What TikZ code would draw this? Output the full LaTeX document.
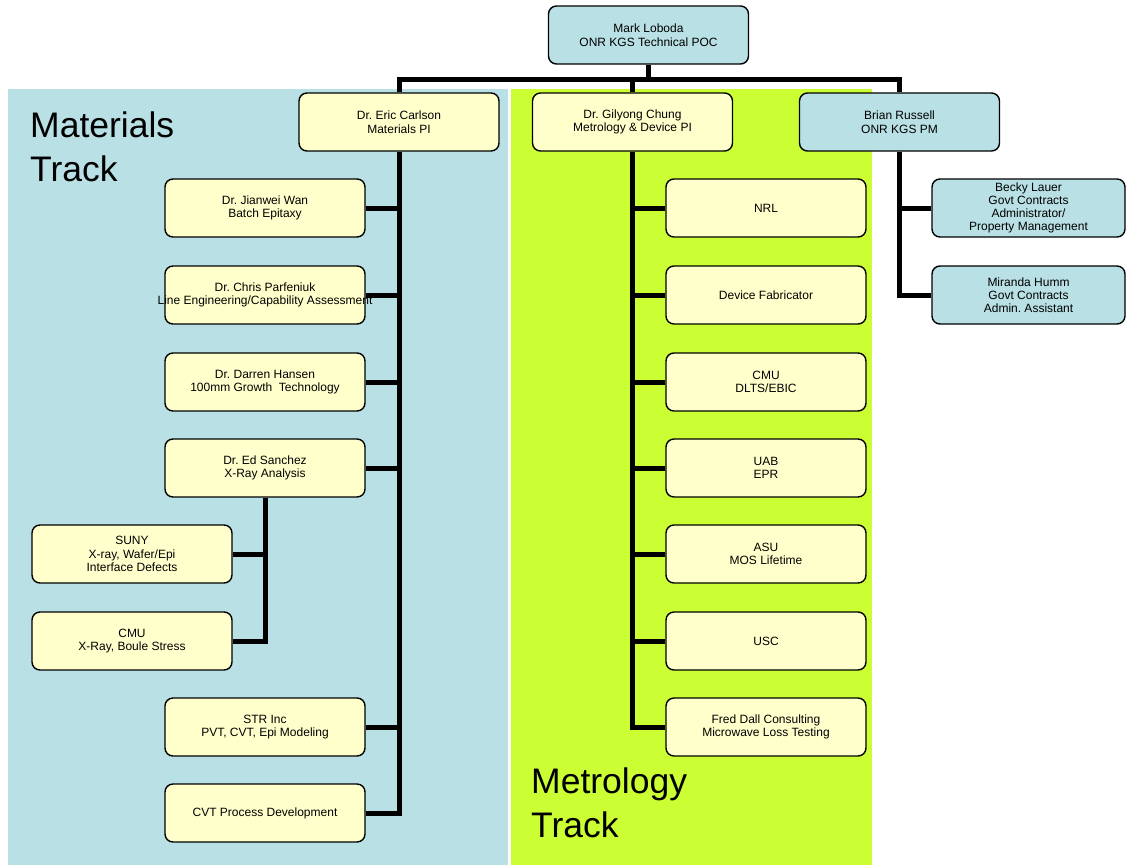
\documentclass[tikz,border=0pt]{standalone}
\usepackage{fontspec}
\setmainfont{Liberation Sans}
\frenchspacing
\definecolor{panelblue}{RGB}{185,224,228}
\definecolor{panelgreen}{RGB}{204,255,51}
\definecolor{boxyellow}{RGB}{255,255,204}
\begin{document}
\begin{tikzpicture}
  [x=1pt,y=-1pt,
   box/.style={draw,line width=1.4pt,rounded corners=8pt,minimum width=200pt,minimum height=58pt,
     inner sep=2pt,align=center,font=\fontsize{12}{13.5}\selectfont},
   pibox/.style={box,fill=boxyellow},
   onrbox/.style={box,fill=panelblue},
   conn/.style={line width=5pt},
   tracklabel/.style={anchor=base west,inner sep=0pt,font=\fontsize{35.5}{42}\selectfont}]
  \useasboundingbox (0,0) rectangle (1127,865);

  % track panels
  \fill[panelblue] (8,89) rectangle (508,865);
  \fill[panelgreen] (511,89) rectangle (872,865);
  \node[tracklabel] (matA) at (30,137) {Materials};
  \node[tracklabel] (matB) at (30,181) {Track};
  \node[tracklabel] (metA) at (531,793) {Metrology};
  \node[tracklabel] (metB) at (531,837) {Track};

  \node[onrbox] (mark) at (648.5,35) {Mark Loboda\\ONR KGS Technical POC};
  \node[pibox] (carlson) at (399,122) {Dr. Eric Carlson\\Materials PI};
  \node[pibox] (chung) at (632.5,122) {Dr. Gilyong Chung\\Metrology \& Device PI};
  \node[onrbox] (russell) at (899.5,122) {Brian Russell\\ONR KGS PM};

  % materials column
  \node[pibox] (wan) at (265,208) {Dr. Jianwei Wan\\Batch Epitaxy};
  \node[pibox] (parfeniuk) at (265,295) {Dr. Chris Parfeniuk\\\makebox[0pt]{Line Engineering/Capability Assessment}};
  \node[pibox] (hansen) at (265,382) {Dr. Darren Hansen\\100mm Growth~ Technology};
  \node[pibox] (sanchez) at (265,468) {Dr. Ed Sanchez\\X-Ray Analysis};
  \node[pibox] (suny) at (132,554) {SUNY\\X-ray, Wafer/Epi\\Interface Defects};
  \node[pibox] (cmuxray) at (132,641) {CMU\\X-Ray, Boule Stress};
  \node[pibox] (str) at (265,727) {STR Inc\\PVT, CVT, Epi Modeling};
  \node[pibox] (cvt) at (265,813) {CVT Process Development};

  % metrology column
  \node[pibox] (nrl) at (766,208) {NRL};
  \node[pibox] (devfab) at (766,295) {Device Fabricator};
  \node[pibox] (cmudlts) at (766,382) {CMU\\DLTS/EBIC};
  \node[pibox] (uab) at (766,468) {UAB\\EPR};
  \node[pibox] (asu) at (766,554) {ASU\\MOS Lifetime};
  \node[pibox] (usc) at (766,641) {USC};
  \node[pibox] (dall) at (766,727) {Fred Dall Consulting\\Microwave Loss Testing};

  % contracts
  \node[onrbox,minimum width=193pt,font=\fontsize{12}{13}\selectfont] (lauer) at (1028.5,208)
    {Becky Lauer\\Govt Contracts\\Administrator/\\Property Management};
  \node[onrbox,minimum width=193pt,font=\fontsize{12}{13}\selectfont] (humm) at (1028.5,295)
    {Miranda Humm\\Govt Contracts\\Admin. Assistant};

  \coordinate (bus) at (648.5,79);
  \draw[conn] (mark.south) -- (bus);
  \draw[conn] (carlson.north) |- (bus) -| (russell.north);
  \draw[conn] (chung.north) -- (chung.north |- bus);

  \draw[conn] (carlson.south) |- (cvt.east);
  \foreach \n in {wan,parfeniuk,hansen,sanchez,str}
    \draw[conn] (\n.east) -- (\n.east -| carlson.south);
  \draw[conn] (sanchez.south) |- (cmuxray.east);
  \draw[conn] (suny.east) -- (suny.east -| sanchez.south);

  \draw[conn] (chung.south) |- (dall.west);
  \foreach \n in {nrl,devfab,cmudlts,uab,asu,usc}
    \draw[conn] (\n.west) -- (\n.west -| chung.south);

  \draw[conn] (russell.south) |- (humm.west);
  \draw[conn] (lauer.west) -- (lauer.west -| russell.south);
\end{tikzpicture}
\end{document}
